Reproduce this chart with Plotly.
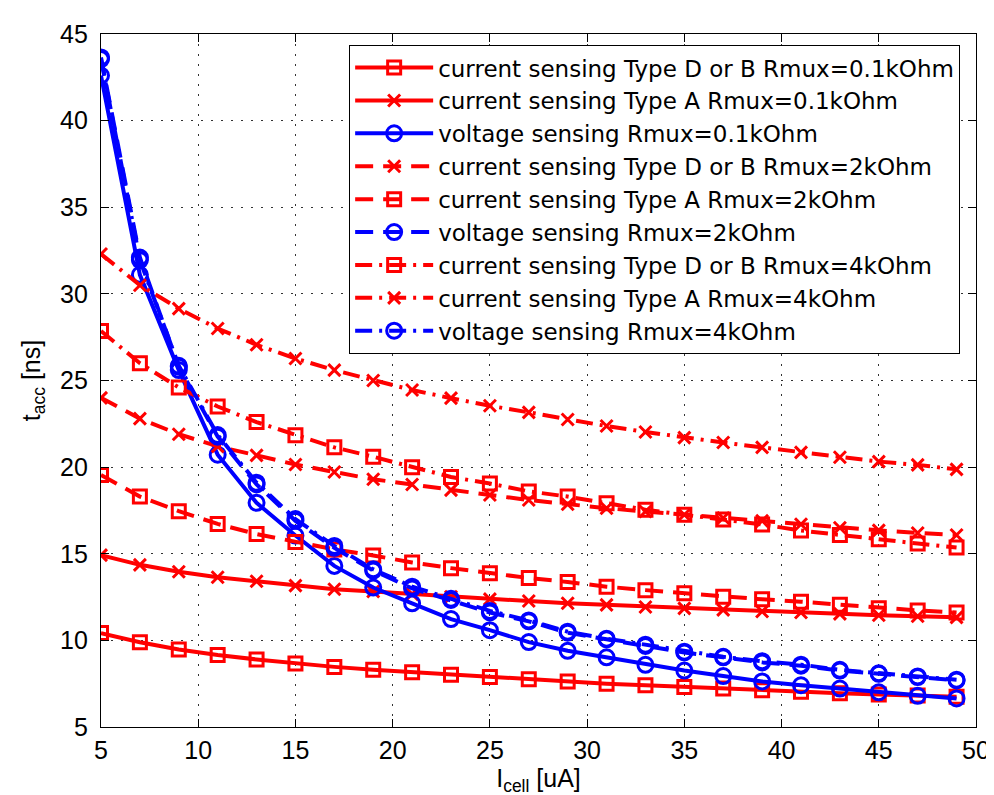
import plotly.graph_objects as go

# cell current [uA]
i_cell = [5, 7, 9, 11, 13, 15, 17, 19, 21, 23, 25, 27, 29, 31, 33, 35, 37, 39, 41, 43, 45, 47, 49]

# access time [ns]
cs_db_01k = [10.42, 9.89, 9.47, 9.15, 8.90, 8.67, 8.47, 8.30, 8.16, 8.01, 7.88, 7.75, 7.62, 7.50, 7.41, 7.31, 7.22, 7.12, 7.03, 6.95, 6.88, 6.82, 6.74]
cs_a_01k = [14.92, 14.36, 13.96, 13.64, 13.41, 13.16, 12.95, 12.82, 12.67, 12.52, 12.38, 12.27, 12.14, 12.05, 11.93, 11.85, 11.76, 11.67, 11.61, 11.53, 11.45, 11.39, 11.33]
vs_01k = [42.6, 31.1, 25.6, 20.72, 17.94, 16.05, 14.3, 13.05, 12.14, 11.23, 10.59, 9.9, 9.4, 9.02, 8.59, 8.26, 7.94, 7.63, 7.41, 7.22, 7.0, 6.8, 6.65]
cs_db_2k = [24.0, 22.8, 21.9, 21.2, 20.68, 20.15, 19.72, 19.3, 19.0, 18.67, 18.39, 18.1, 17.86, 17.63, 17.44, 17.25, 17.06, 16.9, 16.7, 16.5, 16.35, 16.2, 16.08]
cs_a_2k = [19.55, 18.3, 17.46, 16.72, 16.14, 15.68, 15.25, 14.9, 14.5, 14.17, 13.88, 13.6, 13.37, 13.1, 12.9, 12.72, 12.52, 12.37, 12.23, 12.05, 11.86, 11.73, 11.61]
vs_2k = [43.65, 32.1, 25.8, 21.76, 19.0, 16.9, 15.34, 14.03, 13.0, 12.33, 11.61, 11.1, 10.44, 10.06, 9.68, 9.3, 9.02, 8.73, 8.54, 8.26, 8.07, 7.88, 7.69]
cs_db_4k = [27.86, 26.0, 24.6, 23.5, 22.6, 21.84, 21.14, 20.6, 20.0, 19.43, 19.05, 18.6, 18.3, 17.92, 17.54, 17.25, 16.97, 16.69, 16.34, 16.08, 15.83, 15.59, 15.36]
cs_a_4k = [32.3, 30.5, 29.15, 28.0, 27.06, 26.27, 25.6, 25.0, 24.45, 23.98, 23.54, 23.16, 22.75, 22.37, 22.03, 21.7, 21.42, 21.14, 20.85, 20.57, 20.32, 20.13, 19.87]
vs_4k = [43.55, 31.95, 25.85, 21.85, 19.1, 17.0, 15.45, 14.1, 13.1, 12.4, 11.7, 11.15, 10.5, 10.1, 9.75, 9.35, 9.05, 8.8, 8.6, 8.3, 8.1, 7.92, 7.73]

RED = "#ff0000"
BLUE = "#0000ff"
DASH = "18px,10px"
DASHDOT = "17px,7px,3px,7px"

series = [
    ("current sensing Type D or B Rmux=0.1kOhm", cs_db_01k, RED, "solid", "square-open"),
    ("current sensing Type A Rmux=0.1kOhm", cs_a_01k, RED, "solid", "x-thin-open"),
    ("voltage sensing Rmux=0.1kOhm", vs_01k, BLUE, "solid", "circle-open"),
    ("current sensing Type D or B Rmux=2kOhm", cs_db_2k, RED, DASH, "x-thin-open"),
    ("current sensing Type A Rmux=2kOhm", cs_a_2k, RED, DASH, "square-open"),
    ("voltage sensing Rmux=2kOhm", vs_2k, BLUE, DASH, "circle-open"),
    ("current sensing Type D or B Rmux=4kOhm", cs_db_4k, RED, DASHDOT, "square-open"),
    ("current sensing Type A Rmux=4kOhm", cs_a_4k, RED, DASHDOT, "x-thin-open"),
    ("voltage sensing Rmux=4kOhm", vs_4k, BLUE, DASHDOT, "circle-open"),
]
sizes = {"square-open": 13, "x-thin-open": 12, "circle-open": 15}

fig = go.Figure()
for name, y, color, dash, sym in series:
    fig.add_trace(go.Scatter(
        x=i_cell, y=y, name=name, mode="lines+markers",
        line=dict(color=color, width=4, dash=dash),
        marker=dict(symbol=sym, size=sizes[sym], color=color, line=dict(color=color, width=3)),
    ))

axis_style = dict(
    showline=True, linecolor="black", linewidth=1.2, mirror="ticks",
    ticks="inside", ticklen=8, tickcolor="black",
    showgrid=True, gridcolor="#333333", gridwidth=1, griddash="2px,8px",
    zeroline=False, tickfont=dict(size=25, color="black"),
)

fig.update_layout(
    width=994, height=795,
    margin=dict(l=93, r=16, t=15, b=76),
    paper_bgcolor="white", plot_bgcolor="white",
    font=dict(family="Liberation Sans, Arial, sans-serif", size=25, color="black"),
    xaxis=dict(range=[5, 50], dtick=5, ticklabelstandoff=1,
               title=dict(text="I<sub>cell</sub> [uA]", font=dict(size=25), standoff=0),
               **axis_style),
    yaxis=dict(range=[5, 45], dtick=5, ticklabelstandoff=7,
               title=dict(text="t<sub>acc</sub> [ns]", font=dict(size=25), standoff=12),
               **axis_style),
    legend=dict(x=0.2836, y=0.984, xanchor="left", yanchor="top",
                bgcolor="white", bordercolor="black", borderwidth=1,
                font=dict(family="DejaVu Sans, sans-serif", size=23),
                itemwidth=78, tracegroupgap=0),
)

fig.write_html("out.html")
